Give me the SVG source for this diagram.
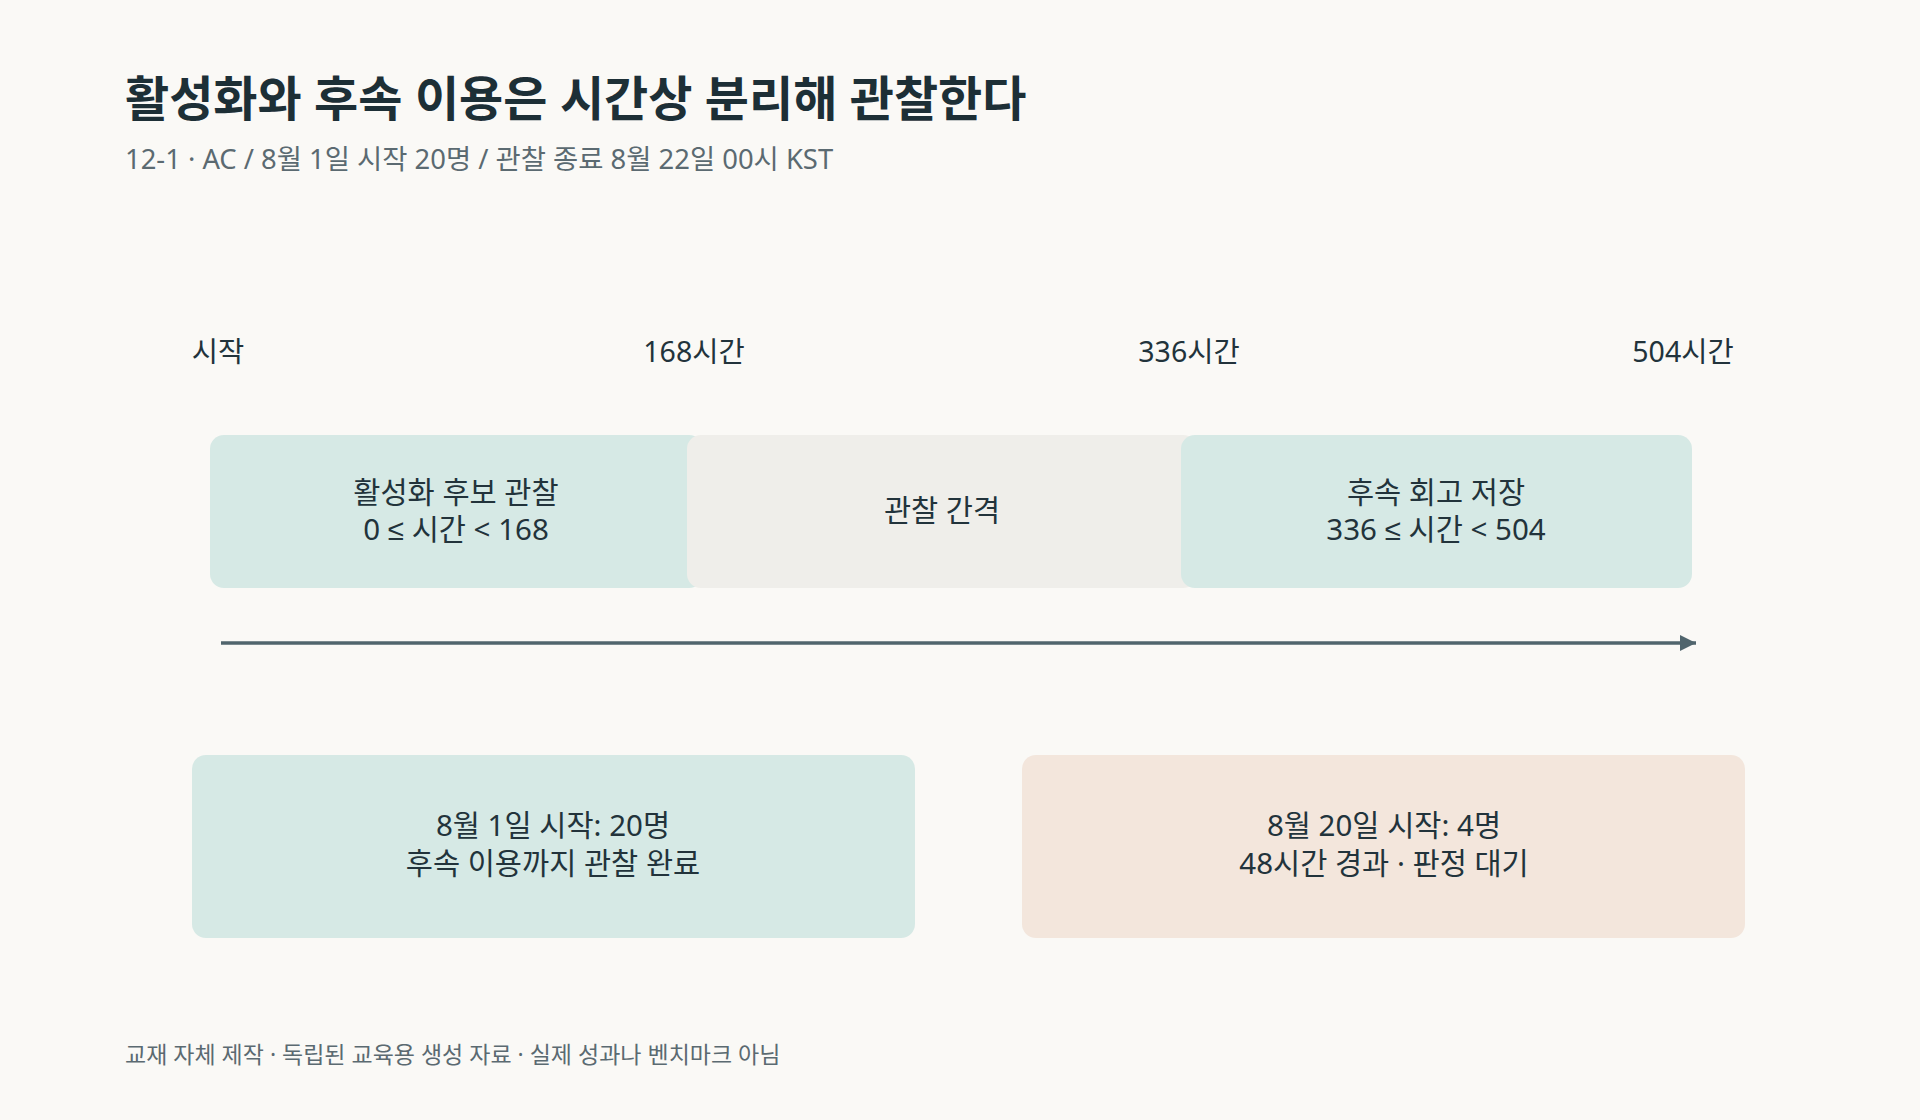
<svg xmlns="http://www.w3.org/2000/svg" width="1920" height="1120" viewBox="0 0 1920 1120">
<defs>
<style>
text{font-family:"Noto Sans","Noto Sans CJK KR",sans-serif;}
.title{font-size:48px;font-weight:700;fill:#1d2f36;}
.sub{font-size:27.4px;fill:#5b6a71;}
.tick{font-size:28.5px;fill:#22333b;text-anchor:middle;}
.lbl{font-size:29.5px;fill:#22333b;text-anchor:middle;}
.foot{font-size:23px;fill:#5b6a71;}
.sym{font-family:"Liberation Sans","DejaVu Sans",sans-serif;}
.teal{fill:#d6e9e5;}
.gray{fill:#efeeea;}
.peach{fill:#f3e6dc;}
</style>
<marker id="ah" markerUnits="userSpaceOnUse" markerWidth="18" markerHeight="16" refX="16" refY="8" orient="auto">
<path d="M0,0 L16,8 L0,16 Z" fill="#50656d"/>
</marker>
</defs>
<rect width="1920" height="1120" fill="#faf9f6"/>
<text class="title" x="125" y="116">활성화와 후속 이용은 시간상 분리해 관찰한다</text>
<text class="sub" x="125" y="169">12-1 · AC / 8월 1일 시작 20명 / 관찰 종료 8월 22일 00시 KST</text>

<g id="ticks">
<text class="tick" x="218" y="362">시작</text>
<text class="tick" x="694" y="362">168시간</text>
<text class="tick" x="1189" y="362">336시간</text>
<text class="tick" x="1683" y="362">504시간</text>
</g>

<g id="band-activation">
<rect class="teal" x="210" y="435" width="493" height="153" rx="14"/>
<text class="lbl" x="456" y="503">활성화 후보 관찰</text>
<text class="lbl" x="456" y="540">0 <tspan class="sym">≤</tspan> 시간 &lt; 168</text>
</g>
<g id="band-gap">
<rect class="gray" x="687" y="435" width="510" height="153" rx="14"/>
<text class="lbl" x="942" y="521">관찰 간격</text>
</g>
<g id="band-followup">
<rect class="teal" x="1181" y="435" width="511" height="153" rx="14"/>
<text class="lbl" x="1436" y="503">후속 회고 저장</text>
<text class="lbl" x="1436" y="540">336 <tspan class="sym">≤</tspan> 시간 &lt; 504</text>
</g>

<g id="connectors">
<line x1="221" y1="643" x2="1696" y2="643" stroke="#50656d" stroke-width="3.5" marker-end="url(#ah)"/>
</g>

<g id="cohort-aug1">
<rect class="teal" x="192" y="755" width="723" height="183" rx="14"/>
<text class="lbl" x="553" y="836">8월 1일 시작: 20명</text>
<text class="lbl" x="553" y="874">후속 이용까지 관찰 완료</text>
</g>
<g id="cohort-aug20">
<rect class="peach" x="1022" y="755" width="723" height="183" rx="14"/>
<text class="lbl" x="1384" y="836">8월 20일 시작: 4명</text>
<text class="lbl" x="1384" y="874">48시간 경과 · 판정 대기</text>
</g>

<text class="foot" x="125" y="1063">교재 자체 제작 · 독립된 교육용 생성 자료 · 실제 성과나 벤치마크 아님</text>
</svg>
